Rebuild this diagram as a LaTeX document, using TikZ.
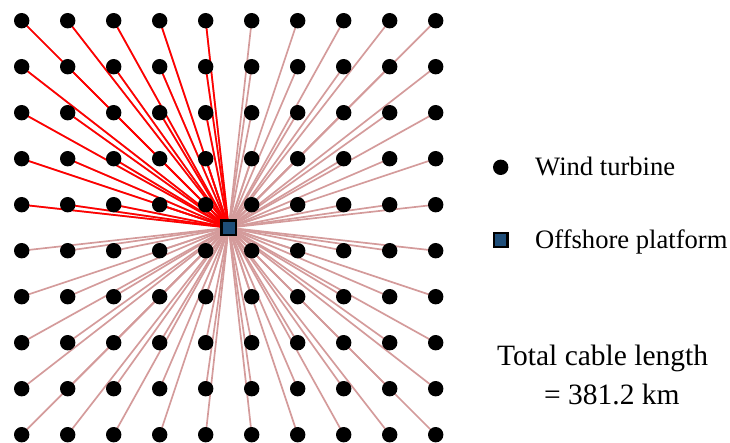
\documentclass[tikz,border=0pt]{standalone}
\usepackage{fontspec}
\setmainfont{Liberation Serif}
\definecolor{cablered}{RGB}{255,0,0}
\definecolor{cablepink}{RGB}{212,155,155}
\definecolor{platblue}{RGB}{31,78,121}
\pgfdeclarelayer{bg}
\pgfsetlayers{bg,main}
\begin{document}
\begin{tikzpicture}[x=1pt,y=-1pt,
  turbine/.style={circle,fill=black,inner sep=0pt,minimum size=15.4pt},
  platform/.style={rectangle,draw=black,line width=2.4pt,fill=platblue,inner sep=0pt,minimum size=14.6pt},
  legplatform/.style={rectangle,draw=black,line width=2.2pt,fill=platblue,inner sep=0pt,minimum size=13.8pt},
  cable/.style={line width=1.7pt,cablepink},
  redcable/.style={line width=1.7pt,cablered},
  legtext/.style={anchor=base west,inner sep=0pt,font=\fontsize{26.6}{30}\selectfont},
  tottext/.style={anchor=base west,inner sep=0pt,font=\fontsize{29.5}{34}\selectfont}]
\useasboundingbox (0,0) rectangle (730,443);
% turbines
\foreach \i in {0,...,9}{
  \foreach \j in {0,...,9}{
    \node[turbine] (t-\i-\j) at ({21.7+46*\i},{20.7+46*\j}) {};
  }
}
% platform
\node[platform] (p) at (228.7,227.7) {};
% cables
\begin{pgfonlayer}{bg}
\foreach \i in {0,...,9}{
  \foreach \j in {0,...,9}{
    \draw[cable] (p.center) -- (t-\i-\j.center);
  }
}
\foreach \i in {0,...,4}{
  \foreach \j in {0,...,4}{
    \draw[redcable] (p.center) -- (t-\i-\j.center);
  }
}
\end{pgfonlayer}
% legend
\node[turbine] (lt) at (500.7,167.3) {};
\node[legtext] (ltx) at (535,176) {Wind turbine};
\node[legplatform] (lp) at (500.5,240.3) {};
\node[legtext] (lpx) at (535,249) {Offshore platform};
\node[tottext] (tot1) at (497,365) {Total cable length};
\node[tottext] (tot2) at (544,404) {= 381.2 km};
\end{tikzpicture}
\end{document}
